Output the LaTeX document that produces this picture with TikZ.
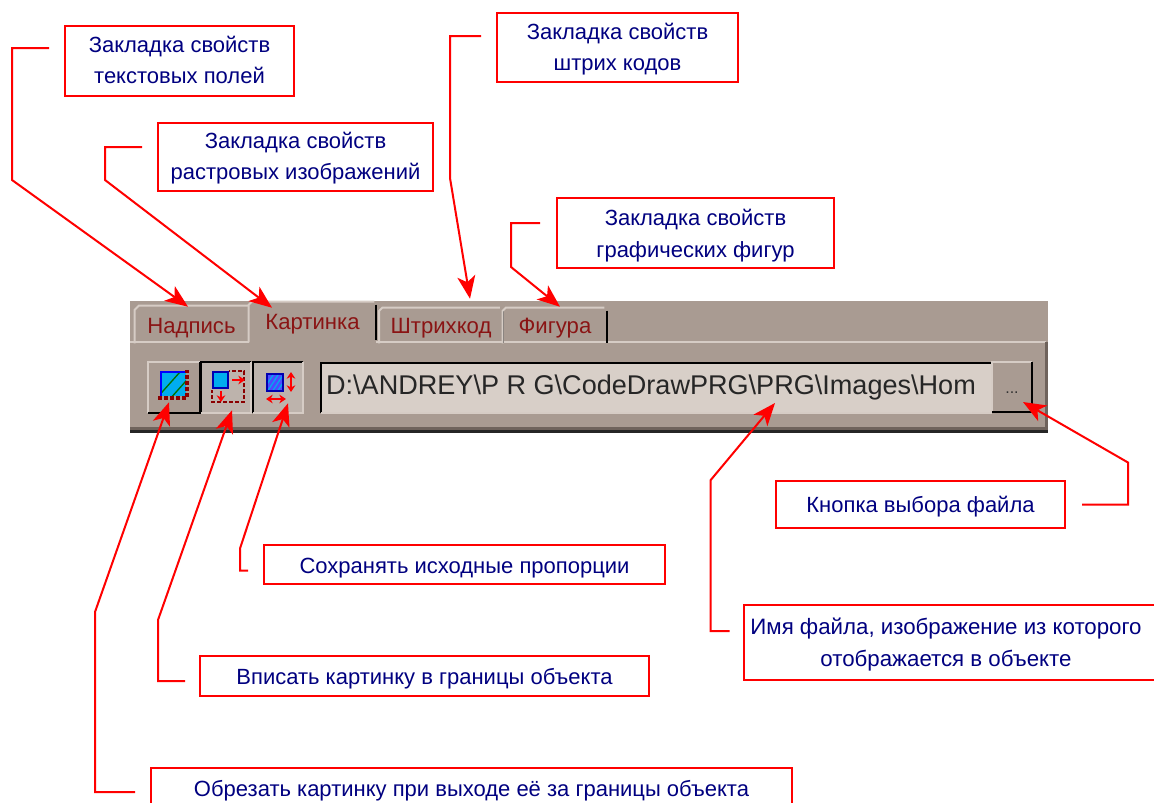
\documentclass[tikz,border=0pt]{standalone}
\usepackage{fontspec}
\setmainfont{Liberation Sans}
\usetikzlibrary{arrows.meta,calc}
\definecolor{panelc}{HTML}{A99B92}
\definecolor{lightc}{HTML}{D6CCC5}
\definecolor{shadec}{HTML}{6F635C}
\definecolor{editc}{HTML}{D8CFC8}
\definecolor{stipc}{HTML}{BDB3AC}
\definecolor{tabtext}{HTML}{8A1414}
\definecolor{navy}{HTML}{000080}
\definecolor{iconred}{HTML}{8B0000}
\newcommand{\lowtext}[2][1.6pt]{\raisebox{-#1}[12pt][3.5pt]{#2}}
\tikzset{
  x=0.75pt,y=-0.75pt,
  labelbox/.style n args={2}{draw=red,line width=1.5pt,text=navy,align=center,inner sep=0pt,
     minimum width=#1*0.75pt,minimum height=#2*0.75pt,
     font=\fontsize{16.5}{23.5}\selectfont},
  labelonly/.style n args={2}{text=navy,align=center,inner sep=0pt,
     minimum width=#1*0.75pt,minimum height=#2*0.75pt,
     font=\fontsize{16.7}{23.5}\selectfont},
  callout/.style={draw=red,line width=1.5pt,-{Stealth[length=17pt,width=13.5pt,inset=4.5pt]}},
  redline/.style={draw=red,line width=1.5pt},
  tabnode/.style n args={2}{inner sep=0pt,text=tabtext,minimum width=#1*0.75pt,minimum height=#2*0.75pt,
     font=\fontsize{16.6}{18}\selectfont},
  btnnode/.style n args={2}{inner sep=0pt,minimum width=#1*0.75pt,minimum height=#2*0.75pt},
  hi/.style={draw=lightc,line width=1.5pt},
  lo/.style={draw=black,line width=1.5pt},
  smallarrow/.style={draw=red,line width=1.5pt,{Stealth[length=5pt,width=6.5pt]}-{Stealth[length=5pt,width=6.5pt]}},
  onearrow/.style={draw=red,line width=1.5pt,-{Stealth[length=5pt,width=6.5pt]}},
}
\begin{document}
\begin{tikzpicture}
\useasboundingbox (0,0) rectangle (1154,803);
\fill[white] (0,0) rectangle (1154,803);

% toolbar panel
\fill[panelc] (130,301) rectangle (1048,432);
\fill[black!85] (130,430) rectangle (1048,433);
\fill[shadec] (130,427) rectangle (1048,430);
\draw[hi] (130,342) -- (249,342);
\draw[hi] (376,342) -- (1046,342);
\fill[shadec] (1045,342) rectangle (1048,430);

% tabs
\node[tabnode={113}{37}] (tab1) at (191.5,324.5) {\lowtext[2.6pt]{Надпись}};
\node[tabnode={127}{40}] (tab2) at (312.5,322) {\lowtext[1.4pt]{Картинка}};
\node[tabnode={123}{35}] (tab3) at (441,325.5) {\lowtext[2pt]{Штрихкод}};
\node[tabnode={104}{35}] (tab4) at (555,325.5) {\lowtext[2pt]{Фигура}};
\draw[hi] (tab1.south west) -- ([shift={(0,4)}]tab1.north west) -- ([shift={(4,0)}]tab1.north west) -- (tab1.north east);
\draw[hi] (tab2.south west) -- ([shift={(0,3)}]tab2.north west) -- ([shift={(3,0)}]tab2.north west) -- ([shift={(-2,0)}]tab2.north east);
\draw[lo] ([shift={(0,3)}]tab2.north east) -- ([shift={(0,-2)}]tab2.south east);
\draw[hi] (tab3.south west) -- ([shift={(0,3)}]tab3.north west) -- ([shift={(3,0)}]tab3.north west) -- ([shift={(-3,0)}]tab3.north east);
\draw[lo] ([shift={(0,3)}]tab3.north east) -- (tab3.south east);
\draw[hi] (tab4.south west) -- ([shift={(0,3)}]tab4.north west) -- ([shift={(3,0)}]tab4.north west) -- ([shift={(-3,0)}]tab4.north east);
\draw[lo] ([shift={(0,3)}]tab4.north east) -- (tab4.south east);

% file-name field and browse button
\node[btnnode={671}{49},fill=editc] (edit) at (656.5,388) {};
\draw[lo] (edit.south west) -- (edit.north west) -- (edit.north east);
\draw[hi] (edit.south west) -- (edit.south east);
\node[inner sep=0pt,font=\fontsize{20.3}{22}\selectfont,text=black!85] (path) at (651,387) {D:\textbackslash ANDREY\textbackslash P R G\textbackslash CodeDrawPRG\textbackslash PRG\textbackslash Images\textbackslash Hom};
\node[btnnode={40}{50},fill=panelc] (browse) at (1012,387) {};
\draw[hi] (browse.south west) -- (browse.north west) -- (browse.north east);
\draw[lo] (browse.north east) -- (browse.south east) -- (browse.south west);
\node[inner sep=0pt,font=\fontsize{12}{14}\selectfont,text=black!80] (dots) at (1012,393) {...};

% three image-mode buttons
\node[btnnode={52}{51},fill=panelc] (btn1) at (174,387.5) {};
\draw[hi] (btn1.south west) -- (btn1.north west) -- (btn1.north east);
\draw[lo] (btn1.north east) -- (btn1.south east) -- (btn1.south west);
\node[btnnode={50}{51},fill=stipc] (btn2) at (226,387.5) {};
\draw[lo] (btn2.south west) -- (btn2.north west) -- (btn2.north east);
\draw[hi] (btn2.north east) -- (btn2.south east) -- (btn2.south west);
\node[btnnode={50}{51},fill=stipc] (btn3) at (278,387.5) {};
\draw[lo] (btn3.south west) -- (btn3.north west) -- (btn3.north east);
\draw[hi] (btn3.north east) -- (btn3.south east) -- (btn3.south west);

% icon 1
\fill[cyan] (162,373) rectangle (186,396);
\begin{scope}
\clip (162,373) rectangle (186,396);
\foreach \d in {0,14,28}{\draw[green!45!black,line width=1pt] (155+\d,400) -- (180+\d,372);}
\end{scope}
\draw[blue,line width=1.8pt] (161,397) -- (161,372) -- (186,372);
\draw[iconred,line width=2.4pt,dash pattern=on 3pt off 1.5pt] (158,398) -- (187,398) -- (187,370);
% icon 2
\draw[iconred,line width=1.5pt,dash pattern=on 3pt off 1.5pt] (212,371) rectangle (244,402);
\fill[stipc] (210,369) rectangle (229,390);
\draw[blue!70!black,line width=1.3pt,fill=cyan] (213,372) rectangle (228,388);
\draw[onearrow] (232,380) -- (245,380);
\draw[onearrow] (221,391) -- (221,402);
% icon 3
\fill[blue!70] (267,374) rectangle (283,391);
\begin{scope}
\clip (267,374) rectangle (283,391);
\foreach \d in {0,5,10,15,20,25}{\draw[cyan,line width=0.9pt] (260+\d,395) -- (275+\d,372);}
\end{scope}
\draw[blue!70!black,line width=1pt] (267,374) rectangle (283,391);
\draw[smallarrow] (291,372) -- (291,392);
\draw[smallarrow] (266,399) -- (286,399);

% labels
\node[labelbox={229}{70}] (box1) at (179.5,61) {\lowtext[1.2pt]{Закладка свойств}\\\lowtext[1.2pt]{текстовых полей}};
\node[labelbox={275}{68}] (box2) at (295.5,157) {\lowtext[1.2pt]{Закладка свойств}\\\lowtext[1.2pt]{растровых изображений}};
\node[labelbox={241}{69}] (box3) at (617.5,47.5) {\lowtext{Закладка свойств}\\\lowtext{штрих кодов}};
\node[labelbox={277}{70}] (box4) at (695.5,233) {\lowtext[2.2pt]{Закладка свойств}\\\lowtext[2.2pt]{графических фигур}};
\node[labelbox={401}{39}] (box5) at (464.5,564.5) {\lowtext[2.2pt]{Сохранять исходные пропорции}};
\node[labelbox={449}{40}] (box6) at (424.5,676) {\lowtext[2.2pt]{Вписать картинку в границы объекта}};
\node[labelbox={641}{42}] (box7) at (471.5,789) {\lowtext{Обрезать картинку при выходе её за границы объекта}};
\node[labelbox={289}{47}] (box8) at (920.5,504.5) {\lowtext{Кнопка выбора файла}};
\node[labelonly={404}{75}] (box9) at (946,642.5) {\lowtext[1.8pt]{Имя файла, изображение из которого}\\\lowtext[1.8pt]{отображается в объекте}};
\draw[redline] ($(box9.north east)+(8,0)$) -- (box9.north west) -- (box9.south west) -- ($(box9.south east)+(8,0)$);

% connectors
\draw[callout] ([shift={(-15,-13)}]box1.west) -- ++(-37,0) -- ++(0,132) -- ([shift={(-3.5,1)}]tab1.north);
\draw[callout] ([shift={(-15,-10)}]box2.west) -- ++(-37,0) -- ++(0,33) -- ([shift={(-40.5,6)}]tab2.north);
\draw[callout] ([shift={(-15,-11.5)}]box3.west) -- ++(-31,0) -- ++(0,142) -- ([shift={(29,-9)}]tab3.north);
\draw[callout] ([shift={(-16,-10)}]box4.west) -- ++(-29,0) -- ++(0,44) -- ([shift={(5,-1)}]tab4.north);
\draw[callout] ([shift={(-15,6)}]box5.west) -- ++(-8,0) -- ++(0,-22) -- ([shift={(10,-10)}]btn3.south);
\draw[callout] ([shift={(-14,5)}]box6.west) -- ++(-27,0) -- ++(0,-61) -- ([shift={(6,-3)}]btn2.south);
\draw[callout] ([shift={(-15,3)}]box7.west) -- ++(-40,0) -- ++(0,-180) -- ([shift={(-5,-11)}]btn1.south);
\draw[callout] ([shift={(16,0)}]box8.east) -- ++(46,0) -- ++(0,-42) -- ([shift={(11,15)}]browse.center);
\draw[callout] ([shift={(-14,-11.5)}]box9.west) -- ++(-19,0) -- ++(0,-151) -- ([shift={(118.5,15)}]edit.center);
\end{tikzpicture}
\end{document}
